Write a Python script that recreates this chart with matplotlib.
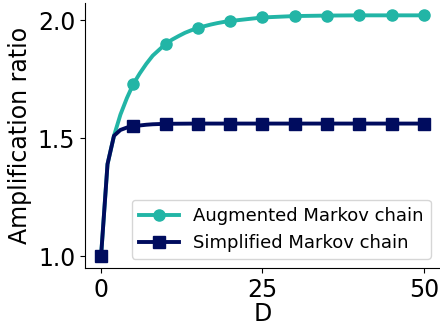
import matplotlib
matplotlib.use('Agg')
import matplotlib.pyplot as plt

# values
d_aug = [0, 1, 2, 3, 4, 5, 6, 7, 8, 9, 10, 11, 12, 13, 14, 15, 16, 17, 18, 19, 20,
         25, 30, 35, 40, 45, 50]
ratio_aug = [1.0, 1.39, 1.51, 1.60, 1.67, 1.73, 1.775, 1.815, 1.85, 1.875, 1.90,
             1.918, 1.933, 1.947, 1.958, 1.967, 1.975, 1.982, 1.988, 1.993, 1.997,
             2.012, 2.018, 2.02, 2.021, 2.021, 2.021]
d_simp = [0, 1, 2, 3, 4, 5, 6, 7, 8, 9, 10, 15, 20, 25, 30, 35, 40, 45, 50]
ratio_simp = [1.0, 1.39, 1.51, 1.535, 1.545, 1.55, 1.554, 1.557, 1.559, 1.56, 1.561,
              1.562, 1.562, 1.562, 1.562, 1.562, 1.562, 1.562, 1.562]
marker_d = [0, 5, 10, 15, 20, 25, 30, 35, 40, 45, 50]

teal = '#22b5a6'
navy = '#000c5e'

fig = plt.figure(figsize=(4.4, 3.31), dpi=100)
ax = fig.add_axes([0.193, 0.19, 0.807, 0.80])

ax.plot(d_aug, ratio_aug, color=teal, lw=2.8, marker='o', ms=8,
        markevery=[d_aug.index(m) for m in marker_d if m != 0],
        label='Augmented Markov chain')
ax.plot(d_simp, ratio_simp, color=navy, lw=2.8, marker='s', ms=8,
        markevery=[d_simp.index(m) for m in marker_d],
        label='Simplified Markov chain')

ax.set_xticks([0, 25, 50])
ax.set_yticks([1.0, 1.5, 2.0])
ax.tick_params(labelsize=17)
ax.set_xlabel('D', fontsize=17, labelpad=0)
ax.set_ylabel('Amplification ratio', fontsize=17)
ax.spines['top'].set_visible(False)
ax.spines['right'].set_visible(False)
ax.legend(loc='lower right', fontsize=13, handlelength=2.2)

fig.savefig('out.png', dpi=100)
